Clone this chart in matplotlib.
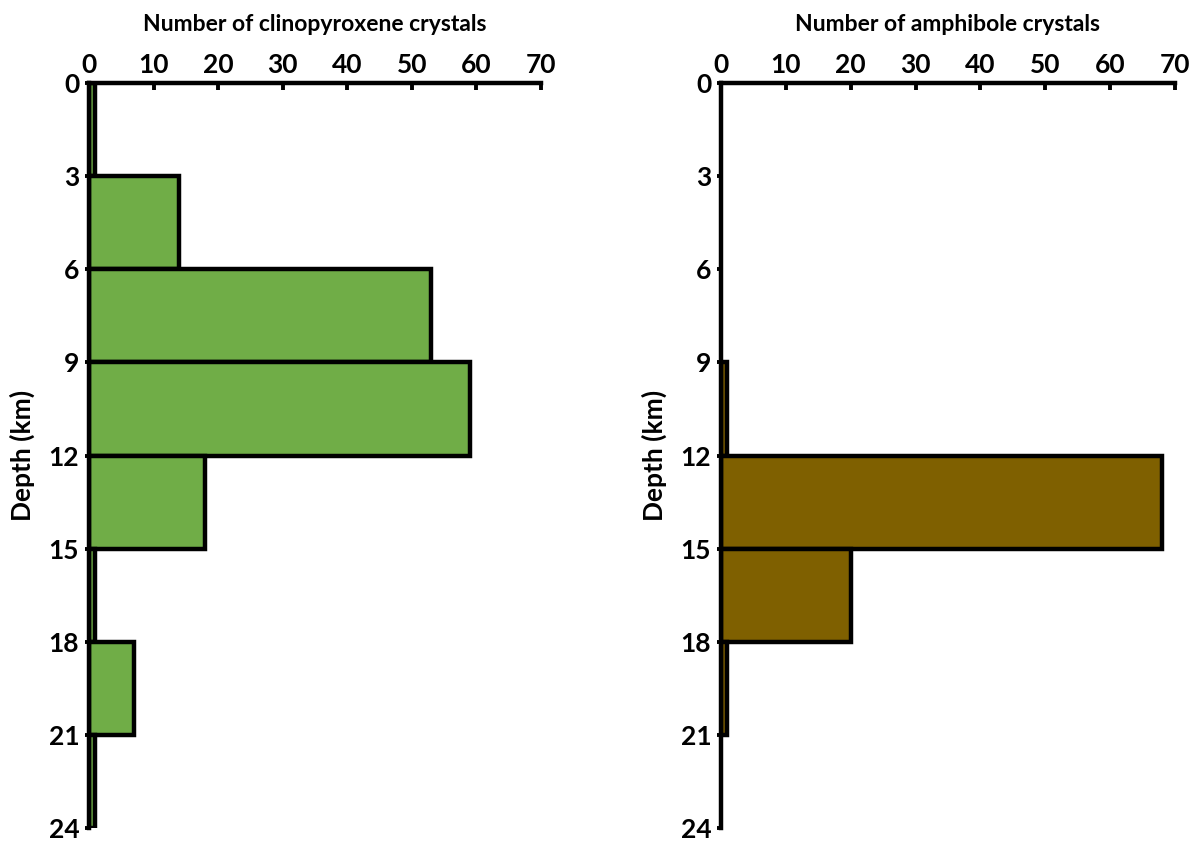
import matplotlib
matplotlib.use("Agg")
import matplotlib.pyplot as plt

# Depth bins (km), 3 km wide
bin_edges = [0, 3, 6, 9, 12, 15, 18, 21, 24]
depth_ticks = [0, 3, 6, 9, 12, 15, 18, 21, 24]
count_ticks = [0, 10, 20, 30, 40, 50, 60, 70]

# Crystal counts per depth bin
cpx_counts = [1, 14, 53, 59, 18, 1, 7, 1]
amph_counts = [0, 0, 0, 1, 68, 20, 1, 0]

plt.rcParams['font.family'] = ['Lato', 'DejaVu Sans']
plt.rcParams['font.weight'] = 'bold'

fig = plt.figure(figsize=(11.99, 8.43), dpi=100)

panels = [
    ([0.0742, 0.0178, 0.3770, 0.8837], cpx_counts, '#70AD47',
     'Number of clinopyroxene crystals'),
    ([0.6013, 0.0178, 0.3787, 0.8837], amph_counts, '#7F6000',
     'Number of amphibole crystals'),
]

for rect, counts, color, title in panels:
    ax = fig.add_axes(rect)
    lows = bin_edges[:-1]
    highs = bin_edges[1:]
    for lo, hi, c in zip(lows, highs, counts):
        if c > 0:
            ax.barh((lo + hi) / 2, c, height=hi - lo, color=color,
                    edgecolor='black', linewidth=3.2, align='center', zorder=2)
    ax.set_xlim(0, 70)
    ax.set_ylim(24, 0)
    ax.xaxis.tick_top()
    ax.xaxis.set_label_position('top')
    ax.set_xticks(count_ticks)
    ax.set_yticks(depth_ticks)
    ax.set_xticklabels([str(t) for t in count_ticks], fontsize=19, fontweight='bold')
    ax.set_yticklabels([str(t) for t in depth_ticks], fontsize=19, fontweight='bold')
    ax.tick_params(axis='x', direction='in', length=5, width=2.8, pad=4)
    ax.tick_params(axis='y', direction='out', length=3, width=2.8, pad=4)
    for s in ['right', 'bottom']:
        ax.spines[s].set_visible(False)
    for s in ['top', 'left']:
        ax.spines[s].set_linewidth(3.2)
        ax.spines[s].set_zorder(3)
    ax.set_xlabel(title, fontsize=16.5, fontweight='bold', labelpad=16)
    ax.set_ylabel('Depth (km)', fontsize=19, fontweight='bold', labelpad=10)

fig.savefig('out.png', dpi=100, facecolor='white')
